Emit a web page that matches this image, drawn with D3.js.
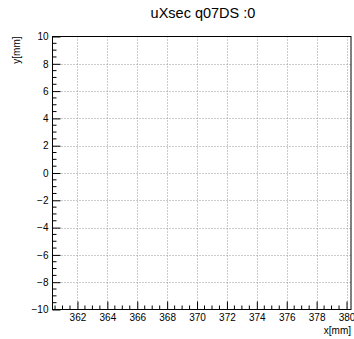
<!DOCTYPE html>
<html><head><meta charset="utf-8">
<script src="https://cdn.jsdelivr.net/npm/d3@7"></script>
<style>body{margin:0;background:#fff;}svg{display:block;}text{font-family:"Liberation Sans",Arial,sans-serif;}</style>
</head><body>
<script>
const title = "uXsec q07DS :0";
const xLabel = "x[mm]";
const yLabel = "y[mm]";
const xDomain = [360.33, 380.3];
const yDomain = [-10, 10];
const xTicks = [362, 364, 366, 368, 370, 372, 374, 376, 378, 380];
const yTicks = [-10, -8, -6, -4, -2, 0, 2, 4, 6, 8, 10];

const W = 354, H = 339;
const L = 52.5, R = 351, T = 36.5, B = 309.5;
const svg = d3.select("body").append("svg").attr("width", W).attr("height", H);
const x = d3.scaleLinear().domain(xDomain).range([L, R]);
const y = d3.scaleLinear().domain(yDomain).range([B, T]);

const xMinor = d3.range(360.5, 380.3, 0.5);
const yMinor = d3.range(-10, 10.01, 0.5);

// grid
const g = svg.append("g");
g.selectAll(".vg").data(xTicks).join("line")
  .attr("x1", d => Math.round(x(d)) + 0.5).attr("x2", d => Math.round(x(d)) + 0.5)
  .attr("y1", T).attr("y2", B)
  .attr("stroke", "#999").attr("stroke-dasharray", "1,2").attr("stroke-width", 1);
g.selectAll(".hg").data(yTicks.filter(d => d > -10 && d < 10)).join("line")
  .attr("y1", d => Math.round(y(d)) + 0.5).attr("y2", d => Math.round(y(d)) + 0.5)
  .attr("x1", L).attr("x2", R)
  .attr("stroke", "#999").attr("stroke-dasharray", "1,2").attr("stroke-width", 1);

// frame
svg.append("rect").attr("x", L).attr("y", T).attr("width", R - L).attr("height", B - T)
  .attr("fill", "none").attr("stroke", "#000").attr("stroke-width", 1);

// x axis ticks
const xa = svg.append("g").attr("transform", `translate(0,${B})`);
xa.call(d3.axisBottom(x).tickValues(xTicks).tickSize(-8).tickFormat(d3.format("d")))
  .call(s => s.select(".domain").remove());
xa.selectAll(".tick line").attr("stroke", "#000");
xa.selectAll(".tick text").attr("font-size", "10px").attr("fill", "#000").attr("dy", "0.71em").attr("y", 4);
svg.append("g").selectAll("line").data(xMinor.filter(d => xTicks.indexOf(d) < 0)).join("line")
  .attr("x1", d => x(d)).attr("x2", d => x(d)).attr("y1", B).attr("y2", B - 4)
  .attr("stroke", "#000");

// y axis ticks
const ya = svg.append("g").attr("transform", `translate(${L},0)`);
ya.call(d3.axisLeft(y).tickValues(yTicks).tickSize(-8).tickFormat(d => d < 0 ? "\u2212" + Math.abs(d) : d))
  .call(s => s.select(".domain").remove());
ya.selectAll(".tick line").attr("stroke", "#000");
ya.selectAll(".tick text").attr("font-size", "10px").attr("fill", "#000").attr("x", -4);
svg.append("g").selectAll("line").data(yMinor.filter(d => yTicks.indexOf(d) < 0)).join("line")
  .attr("y1", d => y(d)).attr("y2", d => y(d)).attr("x1", L).attr("x2", L + 4)
  .attr("stroke", "#000");

// labels
svg.append("text").attr("x", 203).attr("y", 18).attr("text-anchor", "middle")
  .attr("font-size", "14.5px").text(title);
svg.append("text").attr("x", R).attr("y", 334).attr("text-anchor", "end")
  .attr("font-size", "10px").text(xLabel);
svg.append("text").attr("transform", `translate(20,${T}) rotate(-90)`).attr("text-anchor", "end")
  .attr("font-size", "10px").text(yLabel);
</script>
</body></html>
